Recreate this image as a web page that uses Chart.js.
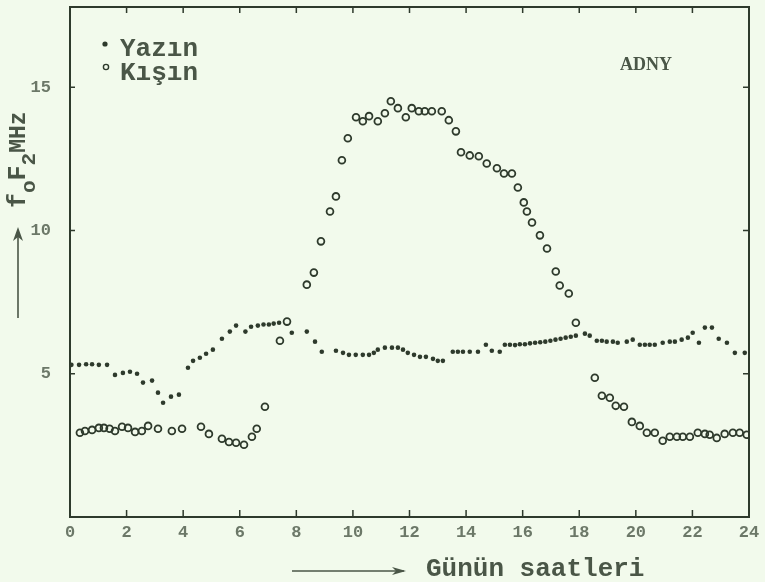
<!DOCTYPE html>
<html>
<head>
<meta charset="utf-8">
<title>foF2 - Yazın / Kışın</title>
<script src="https://cdn.jsdelivr.net/npm/chart.js@4/dist/chart.umd.min.js"></script>
<style>
  html, body { margin: 0; padding: 0; background: #f2faec; }
  #wrap { width: 765px; height: 582px; position: relative; }
</style>
</head>
<body>
<div id="wrap"><canvas id="fof2Chart"></canvas></div>
<script>
// Yaz ayları: saat ve foF2 (MHz)
const yazinSaat = [0.05, 0.32, 0.57, 0.78, 1.02, 1.31, 1.59, 1.87, 2.12, 2.37, 2.58, 2.9,
  3.11, 3.29, 3.57, 3.85, 4.17, 4.35, 4.59, 4.81, 5.05, 5.37, 5.65, 5.87, 6.2, 6.4, 6.64,
  6.84, 7.03, 7.2, 7.39, 7.84, 8.37, 8.66, 8.9, 9.4, 9.65, 9.86, 10.1, 10.35, 10.57, 10.74,
  10.88, 11.13, 11.38, 11.59, 11.77, 11.94, 12.16, 12.37, 12.58, 12.83, 13.0, 13.18, 13.53,
  13.71, 13.89, 14.13, 14.42, 14.7, 14.91, 15.19, 15.37, 15.55, 15.73, 15.9, 16.08, 16.26,
  16.44, 16.62, 16.8, 16.98, 17.16, 17.34, 17.52, 17.7, 17.88, 18.2, 18.37, 18.62, 18.8,
  18.97, 19.19, 19.36, 19.68, 19.89, 20.14, 20.32, 20.49, 20.67, 20.95, 21.2, 21.38, 21.62,
  21.84, 22.01, 22.23, 22.44, 22.69, 22.93, 23.22, 23.5, 23.85];
const yazinFoF2 = [5.31, 5.31, 5.33, 5.33, 5.31, 5.31, 4.96, 5.03, 5.07, 5.0, 4.69, 4.76,
  4.34, 3.99, 4.2, 4.27, 5.21, 5.45, 5.56, 5.7, 5.84, 6.22, 6.47, 6.68, 6.47, 6.64, 6.68,
  6.72, 6.72, 6.75, 6.78, 6.43, 6.47, 6.12, 5.77, 5.8, 5.73, 5.66, 5.66, 5.66, 5.66, 5.73,
  5.84, 5.91, 5.91, 5.91, 5.84, 5.73, 5.66, 5.59, 5.59, 5.52, 5.45, 5.45, 5.77,
  5.77, 5.77, 5.77, 5.77, 6.01, 5.8, 5.77, 6.01, 6.01, 6.0, 6.03, 6.03, 6.06,
  6.08, 6.1, 6.12, 6.15, 6.19, 6.22, 6.26, 6.29, 6.33, 6.4, 6.33, 6.15, 6.15,
  6.12, 6.12, 6.08, 6.12, 6.19, 6.01, 6.01, 6.01, 6.01, 6.08, 6.12, 6.12, 6.19,
  6.26, 6.43, 6.08, 6.61, 6.61, 6.22, 6.08, 5.73, 5.73];

// Kış ayları: saat ve foF2 (MHz)
const kisinSaat = [0.35, 0.53, 0.78, 1.02, 1.2, 1.4, 1.59, 1.84, 2.05, 2.3, 2.54, 2.76,
  3.11, 3.6, 3.96, 4.63, 4.91, 5.37, 5.62, 5.87, 6.15, 6.43, 6.6, 6.89, 7.42, 7.67, 8.37,
  8.62, 8.87, 9.19, 9.4, 9.61, 9.82, 10.11, 10.35, 10.57, 10.88, 11.13, 11.34, 11.59, 11.87,
  12.08, 12.33, 12.54, 12.79, 13.14, 13.39, 13.64, 13.82, 14.13, 14.45, 14.73, 15.09, 15.34,
  15.62, 15.83, 16.04, 16.15, 16.33, 16.61, 16.86, 17.17, 17.31, 17.63, 17.88, 18.55, 18.8,
  19.08, 19.29, 19.58, 19.86, 20.14, 20.39, 20.67, 20.95, 21.2, 21.45, 21.66, 21.91, 22.19,
  22.44, 22.61, 22.86, 23.14, 23.43, 23.67, 23.92];
const kisinFoF2 = [2.94, 3.0, 3.04, 3.11, 3.11, 3.08, 3.0, 3.15, 3.11, 2.97, 3.0, 3.18,
  3.08, 3.0, 3.08, 3.15, 2.9, 2.73, 2.62, 2.59, 2.52, 2.8, 3.08, 3.85, 6.15, 6.82, 8.11,
  8.53, 9.62, 10.66, 11.19, 12.45, 13.22, 13.95, 13.81, 13.99, 13.81, 14.09, 14.51, 14.27, 13.95,
  14.27, 14.16, 14.16, 14.16, 14.16, 13.85, 13.46, 12.73, 12.62, 12.59, 12.34, 12.17, 11.99,
  11.99, 11.5, 10.98, 10.66, 10.28, 9.83, 9.37, 8.57, 8.08, 7.8, 6.78, 4.86, 4.23,
  4.16, 3.88, 3.85, 3.32, 3.18, 2.94, 2.94, 2.66, 2.8, 2.8, 2.8, 2.8, 2.94,
  2.9, 2.87, 2.76, 2.9, 2.94, 2.94, 2.87];

const xTicks = [0, 2, 4, 6, 8, 10, 12, 14, 16, 18, 20, 22, 24];
const yTicks = [5, 10, 15];

const INK = '#2e3a2c';
const LABEL = '#4a5647';
const TICKLBL = '#6c7868';
const BG = '#f2faec';
const MONO = '"Liberation Mono", "DejaVu Sans Mono", monospace';

function toPoints(xs, ys) {
  return xs.map((x, i) => ({ x: x, y: ys[i] }));
}

// çerçeve, iç tik çizgileri, eksen başlıkları ve açıklama
const decorPlugin = {
  id: 'decor',
  beforeDraw(chart) {
    const ctx = chart.ctx;
    ctx.save();
    ctx.fillStyle = BG;
    ctx.fillRect(0, 0, chart.width, chart.height);
    ctx.restore();
  },
  afterDraw(chart) {
    const ctx = chart.ctx;
    const a = chart.chartArea;
    const xs = chart.scales.x, ys = chart.scales.y;
    ctx.save();
    ctx.strokeStyle = INK;
    ctx.lineWidth = 2;
    ctx.strokeRect(a.left, a.top, a.right - a.left, a.bottom - a.top);

    // tik çizgileri içe doğru
    ctx.lineWidth = 1.5;
    ctx.beginPath();
    xTicks.forEach(t => {
      if (t === 0 || t === 24) return;
      const px = xs.getPixelForValue(t);
      ctx.moveTo(px, a.bottom); ctx.lineTo(px, a.bottom - 7);
      ctx.moveTo(px, a.top); ctx.lineTo(px, a.top + 6);
    });
    yTicks.forEach(t => {
      const py = ys.getPixelForValue(t);
      ctx.moveTo(a.left, py); ctx.lineTo(a.left + 5, py);
      ctx.moveTo(a.right, py); ctx.lineTo(a.right - 6, py);
    });
    ctx.stroke();

    // x ekseni başlığı
    ctx.fillStyle = LABEL;
    ctx.strokeStyle = LABEL;
    ctx.lineWidth = 1.6;
    ctx.beginPath();
    ctx.moveTo(292, 571); ctx.lineTo(404, 571);
    ctx.stroke();
    ctx.beginPath();
    ctx.moveTo(406, 571); ctx.lineTo(392, 567); ctx.lineTo(396, 571); ctx.lineTo(392, 575);
    ctx.closePath(); ctx.fill();
    ctx.font = 'bold 26px ' + MONO;
    ctx.textBaseline = 'alphabetic';
    ctx.textAlign = 'left';
    ctx.fillText('Günün saatleri', 426, 576);

    // y ekseni başlığı (dikey)
    ctx.beginPath();
    ctx.moveTo(18, 318); ctx.lineTo(18, 230);
    ctx.stroke();
    ctx.beginPath();
    ctx.moveTo(18, 227); ctx.lineTo(13, 241); ctx.lineTo(18, 237); ctx.lineTo(23, 241);
    ctx.closePath(); ctx.fill();

    ctx.translate(25, 208);
    ctx.rotate(-Math.PI / 2);
    let cx = 0;
    const part = (txt, font, dy) => {
      ctx.font = font;
      ctx.fillText(txt, cx, dy);
      cx += ctx.measureText(txt).width;
    };
    part('f', 'bold 25px ' + MONO, 0);
    part('o', 'bold 21px ' + MONO, 10);
    part('F', 'bold 25px ' + MONO, 0);
    part('2', 'bold 21px ' + MONO, 10);
    part('MHz', 'bold 23px ' + MONO, 0);
    ctx.setTransform(1, 0, 0, 1, 0, 0);

    // açıklama
    ctx.fillStyle = INK;
    ctx.beginPath();
    ctx.arc(105, 44, 2.6, 0, Math.PI * 2);
    ctx.fill();
    ctx.strokeStyle = INK;
    ctx.lineWidth = 1.4;
    ctx.beginPath();
    ctx.arc(106, 67, 2.6, 0, Math.PI * 2);
    ctx.stroke();
    ctx.fillStyle = LABEL;
    ctx.font = 'bold 26px ' + MONO;
    ctx.fillText('Yazın', 120, 56);
    ctx.fillText('Kışın', 120, 80);

    ctx.font = 'bold 18px "Liberation Serif", serif';
    ctx.fillText('ADNY', 620, 70);
    ctx.restore();
  }
};

const ctx = document.getElementById('fof2Chart').getContext('2d');
new Chart(ctx, {
  type: 'scatter',
  data: {
    datasets: [
      {
        label: 'Yazın',
        data: toPoints(yazinSaat, yazinFoF2),
        pointStyle: 'circle',
        pointRadius: 2.3,
        backgroundColor: INK,
        borderColor: INK,
        borderWidth: 0
      },
      {
        label: 'Kışın',
        data: toPoints(kisinSaat, kisinFoF2),
        pointStyle: 'circle',
        pointRadius: 3.4,
        backgroundColor: 'rgba(0,0,0,0)',
        borderColor: INK,
        borderWidth: 1.8
      }
    ]
  },
  options: {
    responsive: true,
    maintainAspectRatio: false,
    animation: false,
    events: [],
    layout: { padding: { top: 7, right: 16, left: 0, bottom: 0 } },
    plugins: {
      legend: { display: false },
      tooltip: { enabled: false }
    },
    scales: {
      x: {
        type: 'linear',
        min: 0,
        max: 24,
        grid: { display: false, drawTicks: false },
        border: { display: false },
        afterBuildTicks: s => { s.ticks = xTicks.map(v => ({ value: v })); },
        afterFit: s => { s.height = 65; s.paddingLeft = 0; s.paddingRight = 0; },
        ticks: {
          padding: 6,
          color: TICKLBL,
          font: { family: MONO, size: 17, weight: 'bold' },
          maxRotation: 0,
          autoSkip: false
        }
      },
      y: {
        type: 'linear',
        min: 0,
        max: 17.8,
        grid: { display: false, drawTicks: false },
        border: { display: false },
        afterBuildTicks: s => { s.ticks = yTicks.map(v => ({ value: v })); },
        afterFit: s => { s.width = 70; s.paddingTop = 0; s.paddingBottom = 0; },
        ticks: {
          padding: 19,
          color: TICKLBL,
          font: { family: MONO, size: 17, weight: 'bold' }
        }
      }
    }
  },
  plugins: [decorPlugin]
});
</script>
</body>
</html>
